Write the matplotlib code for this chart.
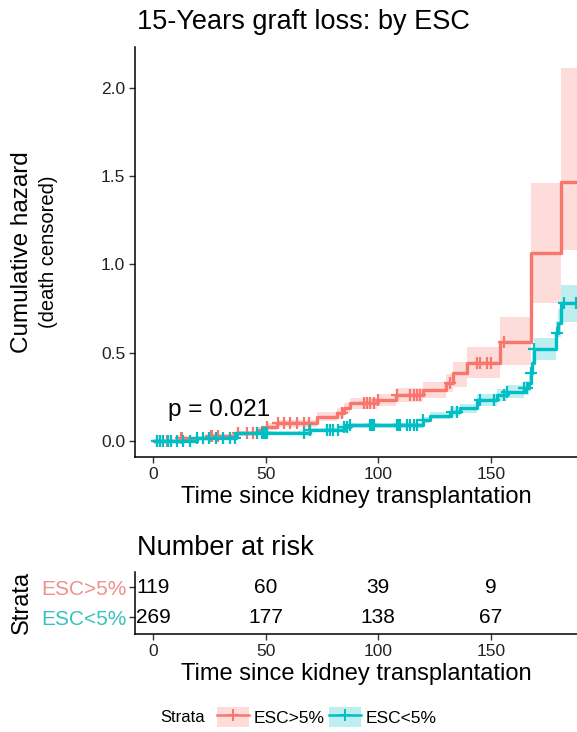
import numpy as np
import matplotlib
matplotlib.use("Agg")
import matplotlib.pyplot as plt
from matplotlib.patches import Patch
from matplotlib.lines import Line2D

plt.rcParams['font.family'] = ['Liberation Sans', 'DejaVu Sans']

# ---------------- data ----------------
groups = ["ESC>5%", "ESC<5%"]
colors = ["#F8766D", "#00BFC4"]
label_colors = ["#F28F8A", "#36C3BD"]

red_t = [0, 12, 25, 37, 46, 50, 55, 72.7, 81.6, 84.6, 87.5, 99.4, 108, 120, 130, 133, 139.5, 154, 167.7, 181]
red_v = [0, 0.015, 0.028, 0.043, 0.062, 0.081, 0.10, 0.138, 0.16, 0.185, 0.213, 0.232, 0.26, 0.289, 0.326, 0.383, 0.44, 0.56, 1.065, 1.468]
red_lo = [0, 0.005, 0.015, 0.028, 0.045, 0.062, 0.08, 0.113, 0.133, 0.157, 0.183, 0.2, 0.222, 0.245, 0.275, 0.306, 0.357, 0.43, 0.78, 1.08]
red_hi = [0, 0.025, 0.042, 0.058, 0.08, 0.10, 0.12, 0.163, 0.187, 0.213, 0.243, 0.265, 0.30, 0.335, 0.38, 0.45, 0.53, 0.70, 1.46, 2.11]
red_cens = [1.5, 6, 12.5, 13, 25.5, 26, 29, 37.5, 41.5, 44.5, 50.4, 55.5, 58, 60.8, 63.8, 66.8, 69, 83.8, 93.5, 95, 96.4, 97.9,
            99.8, 108.5, 114, 115.7, 117, 118.7, 132, 144, 145.4, 148.4, 150, 156]

cyan_t = [0, 19.3, 37, 49, 69.7, 84.6, 87.5, 120, 123, 132, 136.5, 144, 152.8, 157, 164.7, 167, 167.7, 168.1, 169, 179, 180, 181]
cyan_v = [0, 0.015, 0.043, 0.047, 0.062, 0.081, 0.09, 0.119, 0.142, 0.166, 0.185, 0.232, 0.26, 0.279, 0.298, 0.326, 0.383, 0.44, 0.52, 0.61, 0.666, 0.78]
cyan_lo = [0, 0.008, 0.033, 0.037, 0.05, 0.068, 0.076, 0.102, 0.122, 0.143, 0.16, 0.20, 0.225, 0.242, 0.258, 0.282, 0.33, 0.38, 0.459, 0.54, 0.59, 0.674]
cyan_hi = [0, 0.022, 0.053, 0.057, 0.074, 0.094, 0.104, 0.136, 0.162, 0.19, 0.21, 0.265, 0.295, 0.316, 0.34, 0.37, 0.435, 0.50, 0.583, 0.68, 0.745, 0.883]
cyan_cens = [1.5, 3, 4.5, 6.7, 8, 10.4, 13.4, 16.3, 19.3, 22, 25, 28, 31, 34, 36.4, 46, 48.2, 49, 49.7, 50.4, 66.8, 69.7,
             77, 78.6, 80, 82.3, 84.6, 86, 87.5, 96.4, 97.2, 97.9, 108.3, 109, 109.8, 112.8, 114.2, 115.7, 117.2, 120,
             132.8, 135, 145.4, 151.3, 155.8, 157.3, 164.7, 166, 167.7, 169, 179.5, 182.5, 187.7]
t_end = 190

risk_times = [0, 50, 100, 150]
risk_red = [119, 60, 39, 9]
risk_cyan = [269, 177, 138, 67]

x_ticks = [0, 50, 100, 150]
y_ticks = [0.0, 0.5, 1.0, 1.5, 2.0]
p_text = "p = 0.021"

# ---------------- figure ----------------
W, H = 577, 732
fig = plt.figure(figsize=(W / 100, H / 100), dpi=100)

def fx(px):
    return px / W

def fy(py):
    return 1 - py / H

ax = fig.add_axes([fx(135), fy(457), fx(577) - fx(135), fy(47) - fy(457)])
xlim = (-8.1, 188.3)
ax.set_xlim(*xlim)
ax.set_ylim(-0.0906, 2.231)

series = [
    (red_t, red_v, red_lo, red_hi, red_cens, colors[0]),
    (cyan_t, cyan_v, cyan_lo, cyan_hi, cyan_cens, colors[1]),
]
for t, v, lo, hi, cens, c in series:
    tt = np.array(list(t) + [t_end])
    vv = np.array(list(v) + [v[-1]])
    ll = np.array(list(lo) + [lo[-1]])
    hh = np.array(list(hi) + [hi[-1]])
    ax.fill_between(tt, ll, hh, step='post', color=c, alpha=0.25, linewidth=0)
    ax.step(tt, vv, where='post', color=c, linewidth=2.4, solid_capstyle='butt')
    cens = np.array(cens)
    idx = np.searchsorted(np.array(t), cens, side='right') - 1
    cy = np.array(v)[idx]
    ax.plot(cens, cy, linestyle='none', marker='+', markersize=9, markeredgewidth=1.6, color=c)

ax.text(6.5, 0.175, p_text, fontsize=17.5, ha='left', va='center', color='black')

for s in ['top', 'right']:
    ax.spines[s].set_visible(False)
for s in ['left', 'bottom']:
    ax.spines[s].set_linewidth(1.1)
    ax.spines[s].set_color('black')
ax.set_xticks(x_ticks)
ax.set_yticks(y_ticks)
ax.set_yticklabels([f"{v:.1f}" for v in y_ticks])
ax.tick_params(axis='both', direction='out', length=4, width=1, color='#333333',
               labelsize=12.5, labelcolor='#222222', pad=3)
ax.set_xlabel("Time since kidney transplantation", fontsize=17, labelpad=3)
ax.set_ylabel("")
fig.text(fx(22), fy(252), "Cumulative hazard", rotation=90, fontsize=17.5, ha='center', va='center')
fig.text(fx(49), fy(252), "(death censored)", rotation=90, fontsize=14.5, ha='center', va='center')
fig.text(fx(137), fy(22), "15-Years graft loss: by ESC", fontsize=19.5, ha='left', va='center')

# ---------------- risk table ----------------
tab = fig.add_axes([fx(135), fy(634), fx(577) - fx(135), fy(572) - fy(634)])
tab.set_xlim(*xlim)
tab.set_ylim(0.45, 2.5)
for x, n in zip(risk_times, risk_red):
    tab.text(x, 2, str(n), ha='center', va='center', fontsize=15)
for x, n in zip(risk_times, risk_cyan):
    tab.text(x, 1, str(n), ha='center', va='center', fontsize=15)
for s in ['top', 'right']:
    tab.spines[s].set_visible(False)
for s in ['left', 'bottom']:
    tab.spines[s].set_linewidth(1.1)
tab.set_xticks(x_ticks)
tab.set_yticks([2, 1])
tab.set_yticklabels(groups)
for lab, c in zip(tab.get_yticklabels(), label_colors):
    lab.set_color(c)
    lab.set_fontsize(15)
tab.tick_params(axis='both', direction='out', length=4, width=1, color='#333333', pad=2)
tab.tick_params(axis='x', labelsize=12.5, labelcolor='#222222', pad=3)
tab.set_xlabel("Time since kidney transplantation", fontsize=17, labelpad=3)
fig.text(fx(137), fy(548), "Number at risk", fontsize=19.5, ha='left', va='center')
fig.text(fx(22), fy(602), "Strata", rotation=90, fontsize=17, ha='center', va='center')

# ---------------- legend ----------------
handles = []
for c in colors:
    handles.append((Patch(facecolor=c, alpha=0.25, edgecolor='none'),
                    Line2D([], [], color=c, linewidth=1.8, marker='+', markersize=8, markeredgewidth=1.4)))
fig.text(fx(160), fy(717), "Strata", fontsize=12, ha='left', va='center')
leg = fig.legend(handles, groups, loc='center left', bbox_to_anchor=(fx(217), fy(717)),
                 ncol=2, frameon=False, fontsize=12.5, handlelength=1.85, handleheight=1.45,
                 columnspacing=0.25, handletextpad=0.25, borderaxespad=0, borderpad=0)

fig.savefig("out.png", dpi=100)
